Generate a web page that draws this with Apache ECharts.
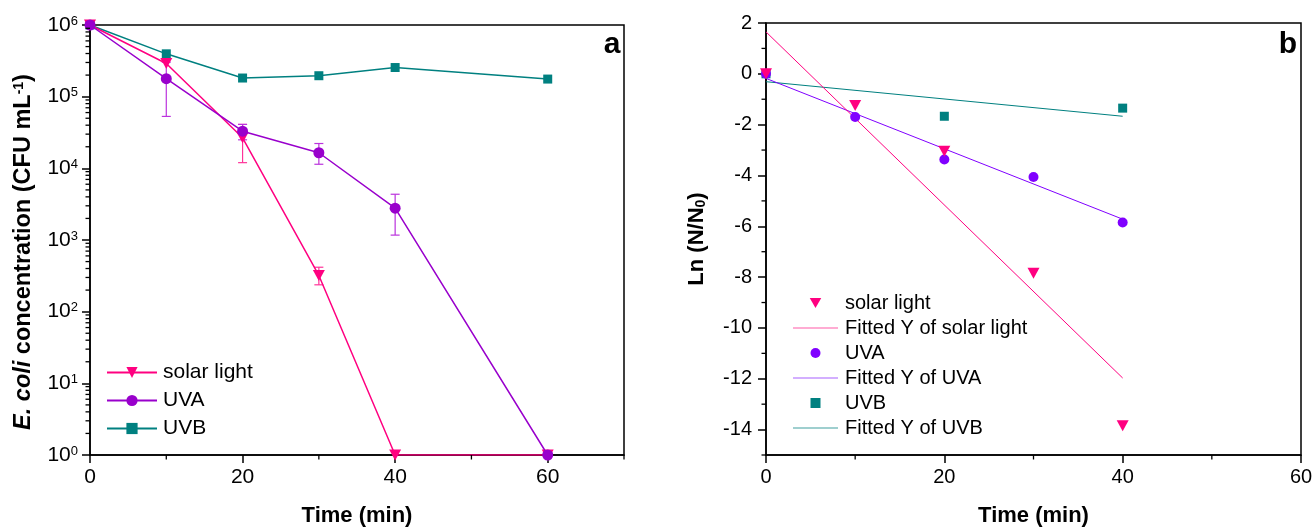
<!DOCTYPE html>
<html>
<head>
<meta charset="utf-8">
<script src="https://cdn.jsdelivr.net/npm/echarts@6/dist/echarts.min.js"></script>
<style>
  html, body { margin: 0; padding: 0; background: #fff; }
  #chart { width: 1316px; height: 532px; }
</style>
</head>
<body>
<div id="chart"></div>
<script>
// ---- Panel a: E. coli concentration (CFU/mL) vs exposure time ----
const timesA = [0, 10, 20, 30, 40, 60];
const solarConc = [1.0e6, 2.9e5, 2.67e4, 320, 1, 1];
const uvaConc   = [1.0e6, 1.78e5, 3.3e4, 1.65e4, 2.78e3, 1];
const uvbConc   = [1.0e6, 3.96e5, 1.82e5, 1.96e5, 2.55e5, 1.76e5];
// error bars: [time, lower, upper]
const solarErr = [[20, 1.2e4, 4.1e4], [30, 237, 417]];
const uvaErr   = [[10, 5.3e4, 3.03e5], [20, 2.5e4, 4.1e4], [30, 1.14e4, 2.22e4], [40, 1.17e3, 4.35e3]];

// ---- Panel b: Ln(N/N0) vs exposure time ----
const timesB = [0, 10, 20, 30, 40];
const solarLn = [0, -1.25, -3.05, -7.85, -13.85];
const uvaLn   = [0, -1.70, -3.37, -4.06, -5.85];
const timesUvbB = [0, 20, 40];
const uvbLn   = [0, -1.67, -1.35];
// linear fits, evaluated at the ends of the fitted range
const fitTimes = [0, 40];
const solarFit = [1.65, -11.97];
const uvaFit   = [-0.18, -5.72];
const uvbFit   = [-0.31, -1.67];

// ---- axis ticks ----
const xMajorA = [0, 20, 40, 60];
const xMinorA = [10, 30, 50, 70];
const xMajorB = [0, 20, 40, 60];
const xMinorB = [10, 30, 50];
const yMajorB = [-14, -12, -10, -8, -6, -4, -2, 0, 2];
const yMinorB = [-15, -13, -11, -9, -7, -5, -3, -1, 1];
const logMinorMult = [2, 3, 4, 5, 6, 7, 8, 9];
const logDecades = [1, 10, 100, 1000, 10000, 100000];

const FONT = "'Liberation Sans', Arial, sans-serif";
const C_SOLAR = '#ff0080';
const C_UVA_A = '#9900cc';
const C_UVA_B = '#8000ff';
const C_UVB = '#008080';
const DOWN_TRI = 'path://M0,0 L12,0 L6,10.4 Z';
const SQUARE = 'path://M0,0 L10,0 L10,10 L0,10 Z';
const FIT_LINE = 'path://M0,0 L45,0 L45,1.2 L0,1.2 Z';

const zip = (xs, ys) => xs.map((x, i) => [x, ys[i]]);

// minor tick marks drawn through the axis scales
function tickMarks(xi, yi, pts, dx, dy) {
  return {
    type: 'custom', xAxisIndex: xi, yAxisIndex: yi, data: pts, clip: false,
    silent: true, z: 10,
    renderItem: (params, api) => {
      const p = api.coord([api.value(0), api.value(1)]);
      return { type: 'line', shape: { x1: p[0], y1: p[1], x2: p[0] + dx, y2: p[1] + dy },
               style: { stroke: '#000', lineWidth: 1.3 } };
    }
  };
}

function errorBars(xi, yi, pts, color) {
  return {
    type: 'custom', xAxisIndex: xi, yAxisIndex: yi, data: pts, silent: true, z: 2,
    encode: { x: 0, y: [1, 2] },
    renderItem: (params, api) => {
      const lo = api.coord([api.value(0), api.value(1)]);
      const hi = api.coord([api.value(0), api.value(2)]);
      const w = 4.5, st = { stroke: color, lineWidth: 1.2 };
      return { type: 'group', children: [
        { type: 'line', shape: { x1: lo[0], y1: lo[1], x2: hi[0], y2: hi[1] }, style: st },
        { type: 'line', shape: { x1: lo[0] - w, y1: lo[1], x2: lo[0] + w, y2: lo[1] }, style: st },
        { type: 'line', shape: { x1: hi[0] - w, y1: hi[1], x2: hi[0] + w, y2: hi[1] }, style: st }
      ] };
    }
  };
}

const logMinorPts = [];
logDecades.forEach(d => logMinorMult.forEach(m => logMinorPts.push([0, d * m])));

const axisLineStyle = { color: '#000', width: 1.5 };

const option = {
  animation: false,
  backgroundColor: '#fff',
  textStyle: { fontFamily: FONT, color: '#000' },
  grid: [
    { left: 90, top: 25, width: 534, height: 432, show: true, borderColor: '#000', borderWidth: 1.5, backgroundColor: 'transparent' },
    { left: 766, top: 23, width: 535, height: 432, show: true, borderColor: '#000', borderWidth: 1.5, backgroundColor: 'transparent' }
  ],
  xAxis: [
    {
      type: 'value', gridIndex: 0, min: 0, max: 70, interval: 10,
      axisLine: { onZero: false, lineStyle: axisLineStyle },
      axisTick: { customValues: xMajorA, length: 8, lineStyle: { width: 1.5 } },
      axisLabel: { customValues: xMajorA, fontSize: 21, color: '#000', margin: 12, fontFamily: FONT },
      splitLine: { show: false },
      name: 'Time (min)', nameLocation: 'middle', nameGap: 50,
      nameTextStyle: { fontSize: 22, fontWeight: 'bold', color: '#000', fontFamily: FONT }
    },
    {
      type: 'value', gridIndex: 1, min: 0, max: 60, interval: 10,
      axisLine: { onZero: false, lineStyle: axisLineStyle },
      axisTick: { customValues: xMajorB, length: 8, lineStyle: { width: 1.5 } },
      axisLabel: { customValues: xMajorB, fontSize: 20, color: '#000', margin: 12, fontFamily: FONT },
      splitLine: { show: false },
      name: 'Time (min)', nameLocation: 'middle', nameGap: 50,
      nameTextStyle: { fontSize: 22, fontWeight: 'bold', color: '#000', fontFamily: FONT }
    }
  ],
  yAxis: [
    {
      type: 'log', gridIndex: 0, min: 1, max: 1e6, logBase: 10, splitNumber: 6,
      axisLine: { onZero: false, lineStyle: axisLineStyle },
      axisTick: { length: 8, lineStyle: { width: 1.5 } },
      axisLabel: {
        margin: 12, color: '#000',
        formatter: v => '{b|10}{s|' + Math.round(Math.log10(v)) + '}',
        rich: {
          b: { fontSize: 21, fontFamily: FONT, color: '#000' },
          s: { fontSize: 13, fontFamily: FONT, color: '#000', verticalAlign: 'top' }
        }
      },
      splitLine: { show: false },
      name: '{i|E. coli} concentration (CFU mL{s|-1})',
      nameLocation: 'middle', nameGap: 54,
      nameTextStyle: {
        fontSize: 23.5, fontWeight: 'bold', color: '#000', fontFamily: FONT, padding: [0, 24, 0, 0],
        rich: {
          i: { fontSize: 23.5, fontWeight: 'bold', fontStyle: 'italic', fontFamily: FONT, color: '#000' },
          s: { fontSize: 14, fontWeight: 'bold', fontFamily: FONT, color: '#000', verticalAlign: 'top' }
        }
      }
    },
    {
      type: 'value', gridIndex: 1, min: -15, max: 2,
      axisLine: { onZero: false, lineStyle: axisLineStyle },
      axisTick: { customValues: yMajorB, length: 8, lineStyle: { width: 1.5 } },
      axisLabel: { customValues: yMajorB, fontSize: 20, color: '#000', margin: 14, fontFamily: FONT },
      splitLine: { show: false },
      name: 'Ln (N/N{sub|0})',
      nameLocation: 'middle', nameGap: 58,
      nameTextStyle: {
        fontSize: 22, fontWeight: 'bold', color: '#000', fontFamily: FONT,
        rich: {
          sub: { fontSize: 14, fontWeight: 'bold', fontFamily: FONT, color: '#000', verticalAlign: 'bottom' }
        }
      }
    }
  ],
  legend: [
    {
      orient: 'vertical', left: 106, top: 362, itemWidth: 50, itemHeight: 14, itemGap: 7,
      padding: 0, selectedMode: false,
      textStyle: { fontSize: 21, color: '#000', fontFamily: FONT, padding: [0, 0, 0, 1] },
      data: ['solar light', 'UVA', 'UVB']
    },
    {
      orient: 'vertical', left: 793, top: 293, itemWidth: 45, itemHeight: 10, itemGap: 5,
      padding: 0, selectedMode: false,
      textStyle: { fontSize: 20, color: '#000', fontFamily: FONT, padding: [0, 0, 0, 2] },
      data: [
        { name: 'solar light', icon: DOWN_TRI, itemStyle: { color: C_SOLAR, opacity: 1 } },
        { name: 'Fitted Y of solar light', icon: FIT_LINE, itemStyle: { color: '#ff5aa8' } },
        { name: 'UVA', icon: 'circle', itemStyle: { color: C_UVA_B, opacity: 1 } },
        { name: 'Fitted Y of UVA', icon: FIT_LINE, itemStyle: { color: '#a860ff' } },
        { name: 'UVB', icon: SQUARE, itemStyle: { color: C_UVB, opacity: 1 } },
        { name: 'Fitted Y of UVB', icon: FIT_LINE, itemStyle: { color: '#409f9f' } }
      ]
    }
  ],
  graphic: [
    { type: 'text', x: 612, y: 45, style: { text: 'a', font: 'bold 30px ' + FONT, fill: '#000', textAlign: 'center', textVerticalAlign: 'middle' } },
    { type: 'text', x: 1288, y: 45, style: { text: 'b', font: 'bold 30px ' + FONT, fill: '#000', textAlign: 'center', textVerticalAlign: 'middle' } }
  ],
  series: [
    // panel a
    { name: 'solar light', type: 'line', xAxisIndex: 0, yAxisIndex: 0, data: zip(timesA, solarConc),
      symbol: DOWN_TRI, symbolSize: [12, 11], z: 4,
      lineStyle: { color: C_SOLAR, width: 1.5 }, itemStyle: { color: C_SOLAR } },
    { name: 'UVA', type: 'line', xAxisIndex: 0, yAxisIndex: 0, data: zip(timesA, uvaConc),
      symbol: 'circle', symbolSize: 11, z: 5,
      lineStyle: { color: C_UVA_A, width: 1.5 }, itemStyle: { color: C_UVA_A } },
    { name: 'UVB', type: 'line', xAxisIndex: 0, yAxisIndex: 0, data: zip(timesA, uvbConc),
      symbol: 'rect', symbolSize: 9, z: 3,
      lineStyle: { color: C_UVB, width: 1.5 }, itemStyle: { color: C_UVB } },
    errorBars(0, 0, solarErr, '#ff3399'),
    errorBars(0, 0, uvaErr, '#bb33dd'),
    tickMarks(0, 0, logMinorPts, -4.5, 0),
    tickMarks(0, 0, xMinorA.map(v => [v, 1]), 0, 4.5),

    // panel b
    { name: 'Fitted Y of UVB', type: 'line', xAxisIndex: 1, yAxisIndex: 1, data: zip(fitTimes, uvbFit),
      showSymbol: false, symbol: 'none', z: 2, lineStyle: { color: C_UVB, width: 1 }, itemStyle: { color: C_UVB } },
    { name: 'Fitted Y of UVA', type: 'line', xAxisIndex: 1, yAxisIndex: 1, data: zip(fitTimes, uvaFit),
      showSymbol: false, symbol: 'none', z: 2, lineStyle: { color: C_UVA_B, width: 1 }, itemStyle: { color: C_UVA_B } },
    { name: 'Fitted Y of solar light', type: 'line', xAxisIndex: 1, yAxisIndex: 1, data: zip(fitTimes, solarFit),
      showSymbol: false, symbol: 'none', z: 2, lineStyle: { color: C_SOLAR, width: 1 }, itemStyle: { color: C_SOLAR } },
    { name: 'UVB', type: 'scatter', xAxisIndex: 1, yAxisIndex: 1, data: zip(timesUvbB, uvbLn),
      symbol: 'rect', symbolSize: 9, z: 3, itemStyle: { color: C_UVB, opacity: 1 } },
    { name: 'UVA', type: 'scatter', xAxisIndex: 1, yAxisIndex: 1, data: zip(timesB, uvaLn),
      symbol: 'circle', symbolSize: 10, z: 4, itemStyle: { color: C_UVA_B, opacity: 1 } },
    { name: 'solar light', type: 'scatter', xAxisIndex: 1, yAxisIndex: 1, data: zip(timesB, solarLn),
      symbol: DOWN_TRI, symbolSize: [12, 11], z: 5, itemStyle: { color: C_SOLAR, opacity: 1 } },
    tickMarks(1, 1, yMinorB.map(v => [0, v]), -4.5, 0),
    tickMarks(1, 1, xMinorB.map(v => [v, -15]), 0, 4.5)
  ]
};

const chart = echarts.init(document.getElementById('chart'), null, { renderer: 'canvas' });
chart.setOption(option);
</script>
</body>
</html>
